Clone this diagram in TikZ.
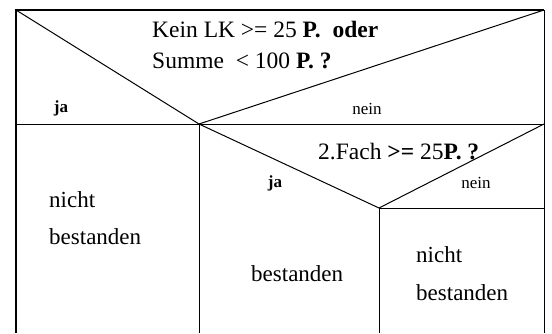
\documentclass[tikz,border=0pt]{standalone}
\usepackage{fontspec}
\setmainfont{Liberation Serif}
\tikzset{
  frame/.style = {draw, line width=2.6pt},
  rule/.style  = {draw, line width=1pt},
  cond/.style  = {font=\fontsize{23.5}{26}\selectfont, anchor=base west, inner sep=0pt},
  case/.style  = {font=\fontsize{17}{19}\selectfont\bfseries, inner sep=0pt},
  act/.style   = {font=\fontsize{23}{26}\selectfont, anchor=base west, inner sep=0pt},
}

\begin{document}
\begin{tikzpicture}[x=1pt, y=-1pt]
    \useasboundingbox (0,0) rectangle (552,333);
    % corners and joints
    \coordinate (tl) at (16,10);
    \coordinate (tr) at (544,10);
    \coordinate (bl) at (16,333);
    \coordinate (br) at (544,333);
    \coordinate (ml) at (16,124);
    \coordinate (mr) at (544,124);
    \coordinate (j1) at (199,124);
    \coordinate (j2) at (379,208);
    \coordinate (nr) at (544,208);
    \coordinate (b1) at (199,333);
    \coordinate (b2) at (379,333);

    % outer frame (no bottom edge)
    \draw[frame] (bl) -- (tl) -- (tr);
    \draw[rule]  (tr) -- (br);
    % first decision
    \draw[rule] (ml) -- (mr);
    \draw[rule] (tl) -- (j1) -- (tr);
    \draw[rule] (j1) -- (b1);
    % second decision
    \draw[rule] (j2) -- (nr);
    \draw[rule] (j1) -- (j2) -- (mr);
    \draw[rule] (j2) -- (b2);

    % texts
    \node[cond] (q1a) at (152,37) {Kein LK >= 25 \textbf{P.}\ \ \textbf{oder}};
    \node[cond] (q1b) at (152,68) {Summe\ \ < 100 \textbf{P. ?}};
    \node[case] (ja1)   at (61,108)  {ja};
    \node[case, font=\fontsize{17}{19}\selectfont] (nein1) at (367,109) {nein};
    \node[cond] (q2)  at (318,159) {2.Fach \textbf{>=} 25\textbf{P. ?}};
    \node[case] (ja2)   at (275,183) {ja};
    \node[case, font=\fontsize{17}{19}\selectfont] (nein2) at (476,183) {nein};
    \node[act] (n1)  at (49,207)  {nicht};
    \node[act] (b1t) at (49,244)  {bestanden};
    \node[act] (b2t) at (251,281) {bestanden};
    \node[act] (n3)  at (416,262) {nicht};
    \node[act] (b3t) at (416,300) {bestanden};
\end{tikzpicture}
\end{document}
